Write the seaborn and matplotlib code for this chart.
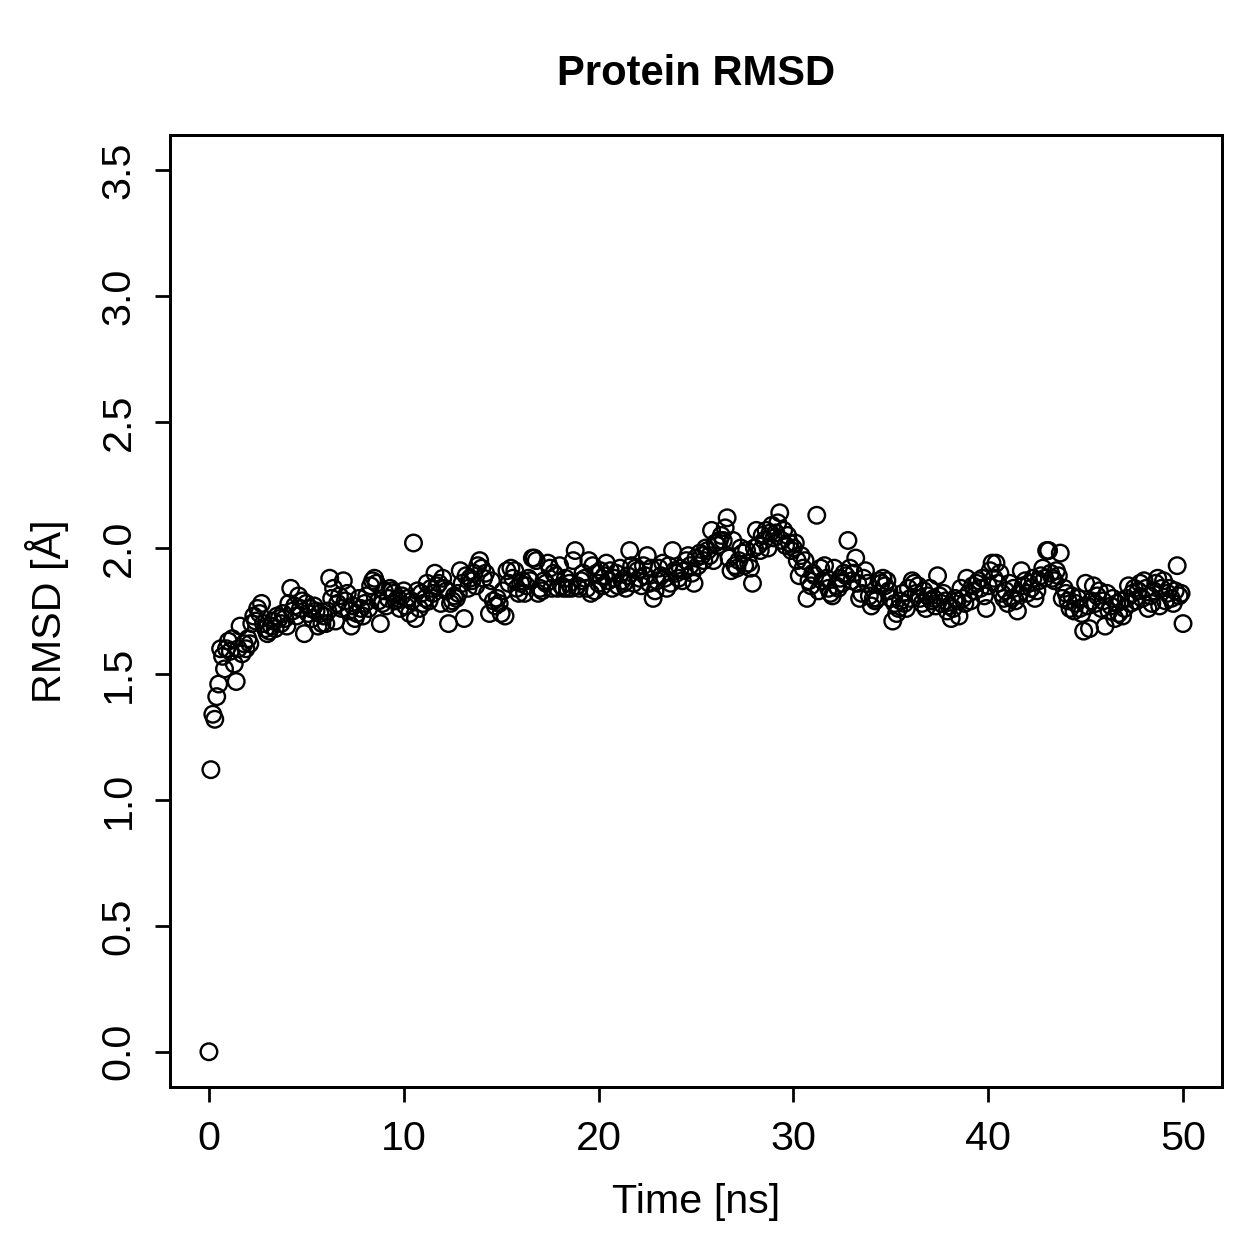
import numpy as np
import pandas as pd
import matplotlib
matplotlib.use('Agg')
import matplotlib.pyplot as plt
import seaborn as sns

# RMSD values, one row per ns (0.1 ns step)
rmsd_rows = [
    [0.00, 1.12, 1.34, 1.32, 1.41, 1.46, 1.60, 1.57, 1.52, 1.60],
    [1.63, 1.59, 1.64, 1.54, 1.47, 1.60, 1.69, 1.58, 1.62, 1.60],
    [1.64, 1.62, 1.70, 1.73, 1.71, 1.76, 1.74, 1.78, 1.70, 1.68],
    [1.66, 1.67, 1.69, 1.71, 1.68, 1.73, 1.72, 1.70, 1.74, 1.72],
    [1.69, 1.78, 1.84, 1.75, 1.77, 1.73, 1.81, 1.76, 1.79, 1.66],
    [1.78, 1.74, 1.76, 1.72, 1.77, 1.75, 1.69, 1.74, 1.70, 1.73],
    [1.70, 1.75, 1.88, 1.80, 1.84, 1.71, 1.78, 1.81, 1.76, 1.87],
    [1.79, 1.82, 1.75, 1.69, 1.77, 1.72, 1.74, 1.80, 1.76, 1.73],
    [1.78, 1.81, 1.76, 1.85, 1.87, 1.88, 1.86, 1.79, 1.70, 1.78],
    [1.83, 1.77, 1.80, 1.84, 1.83, 1.82, 1.79, 1.80, 1.76, 1.81],
    [1.83, 1.77, 1.80, 1.74, 1.79, 2.02, 1.72, 1.83, 1.76, 1.82],
    [1.78, 1.80, 1.86, 1.79, 1.84, 1.82, 1.90, 1.85, 1.86, 1.78],
    [1.88, 1.84, 1.83, 1.70, 1.78, 1.79, 1.81, 1.80, 1.82, 1.91],
    [1.86, 1.72, 1.89, 1.84, 1.88, 1.87, 1.90, 1.85, 1.93, 1.95],
    [1.92, 1.88, 1.90, 1.82, 1.74, 1.87, 1.79, 1.77, 1.80, 1.78],
    [1.74, 1.83, 1.73, 1.91, 1.86, 1.92, 1.88, 1.91, 1.84, 1.82],
    [1.86, 1.87, 1.82, 1.85, 1.88, 1.87, 1.96, 1.96, 1.95, 1.82],
    [1.84, 1.83, 1.87, 1.86, 1.94, 1.92, 1.84, 1.90, 1.89, 1.84],
    [1.93, 1.85, 1.84, 1.88, 1.84, 1.86, 1.84, 1.95, 1.99, 1.85],
    [1.84, 1.87, 1.90, 1.88, 1.84, 1.95, 1.82, 1.93, 1.83, 1.90],
    [1.86, 1.91, 1.85, 1.89, 1.94, 1.87, 1.91, 1.84, 1.88, 1.90],
    [1.85, 1.92, 1.87, 1.86, 1.84, 1.89, 1.99, 1.93, 1.86, 1.92],
    [1.91, 1.88, 1.85, 1.93, 1.89, 1.97, 1.86, 1.92, 1.80, 1.83],
    [1.87, 1.92, 1.89, 1.94, 1.88, 1.84, 1.93, 1.86, 1.99, 1.91],
    [1.90, 1.88, 1.92, 1.87, 1.91, 1.95, 1.97, 1.93, 1.90, 1.86],
    [1.96, 1.93, 1.98, 1.97, 1.95, 2.00, 1.99, 1.97, 2.07, 1.95],
    [2.02, 2.01, 2.03, 2.05, 2.03, 2.08, 2.12, 1.96, 1.91, 2.03],
    [1.93, 1.92, 1.95, 2.00, 1.98, 1.93, 1.99, 1.94, 1.92, 1.86],
    [2.00, 2.07, 2.01, 1.99, 2.05, 2.03, 2.07, 2.00, 2.06, 2.09],
    [2.04, 2.06, 2.10, 2.14, 2.03, 2.07, 2.01, 2.05, 2.02, 1.99],
    [2.00, 2.02, 1.95, 1.89, 1.97, 1.92, 1.95, 1.80, 1.87, 1.85],
    [1.90, 1.89, 2.13, 1.83, 1.92, 1.87, 1.93, 1.88, 1.84, 1.82],
    [1.81, 1.92, 1.85, 1.84, 1.88, 1.86, 1.90, 1.89, 2.03, 1.92],
    [1.87, 1.90, 1.96, 1.86, 1.80, 1.82, 1.88, 1.91, 1.86, 1.81],
    [1.77, 1.80, 1.79, 1.80, 1.87, 1.86, 1.88, 1.85, 1.87, 1.83],
    [1.80, 1.71, 1.78, 1.74, 1.76, 1.79, 1.82, 1.78, 1.76, 1.84],
    [1.80, 1.87, 1.86, 1.82, 1.85, 1.80, 1.78, 1.83, 1.76, 1.81],
    [1.84, 1.79, 1.80, 1.77, 1.89, 1.81, 1.78, 1.82, 1.79, 1.75],
    [1.77, 1.72, 1.76, 1.80, 1.79, 1.73, 1.84, 1.80, 1.78, 1.88],
    [1.82, 1.79, 1.85, 1.83, 1.86, 1.87, 1.84, 1.88, 1.81, 1.76],
    [1.85, 1.91, 1.94, 1.88, 1.94, 1.86, 1.90, 1.82, 1.80, 1.83],
    [1.78, 1.86, 1.80, 1.84, 1.79, 1.75, 1.82, 1.91, 1.85, 1.87],
    [1.82, 1.86, 1.84, 1.88, 1.80, 1.83, 1.87, 1.89, 1.92, 1.88],
    [1.99, 1.99, 1.90, 1.88, 1.87, 1.91, 1.89, 1.98, 1.80, 1.84],
    [1.82, 1.79, 1.76, 1.81, 1.75, 1.78, 1.80, 1.76, 1.74, 1.67],
    [1.86, 1.77, 1.68, 1.79, 1.85, 1.78, 1.81, 1.83, 1.76, 1.79],
    [1.69, 1.82, 1.75, 1.77, 1.80, 1.72, 1.78, 1.74, 1.79, 1.73],
    [1.76, 1.80, 1.85, 1.78, 1.82, 1.84, 1.79, 1.83, 1.86, 1.80],
    [1.87, 1.84, 1.76, 1.81, 1.78, 1.83, 1.86, 1.88, 1.77, 1.84],
    [1.87, 1.79, 1.82, 1.84, 1.80, 1.78, 1.83, 1.93, 1.81, 1.82],
]
rmsd_last = [1.70]

x_ticks = [0, 10, 20, 30, 40, 50]
y_ticks = [0.0, 0.5, 1.0, 1.5, 2.0, 2.5, 3.0, 3.5]

rmsd = [v for row in rmsd_rows for v in row] + rmsd_last
time_ns = np.arange(len(rmsd)) / 10.0
df = pd.DataFrame({'Time': time_ns, 'RMSD': rmsd})

sns.set_style('ticks')
plt.rcParams['font.family'] = ['Liberation Sans', 'DejaVu Sans']
plt.rcParams['text.color'] = 'black'
plt.rcParams['axes.labelcolor'] = 'black'

fig = plt.figure(figsize=(1259 / 180, 1259 / 180), dpi=180)
ax = fig.add_axes([0.135, 0.1366, 0.8356, 0.7562])

sns.scatterplot(data=df, x='Time', y='RMSD', ax=ax, s=44,
                facecolor='none', edgecolor='black', linewidth=0.95)
ax.collections[0].set_facecolor('none')
ax.collections[0].set_edgecolor('black')

ax.set_xlim(-2, 52)
ax.set_ylim(-0.14, 3.64)
ax.set_xticks(x_ticks)
ax.set_yticks(y_ticks)
ax.set_xticklabels([str(t) for t in x_ticks])
ax.set_yticklabels(['%.1f' % t for t in y_ticks], rotation=90, va='center')
ax.tick_params(axis='both', direction='out', length=6, width=1.1,
               labelsize=16.5, pad=7, color='black', labelcolor='black')
for sp in ax.spines.values():
    sp.set_visible(True)
    sp.set_linewidth(1.2)
    sp.set_color('black')

ax.set_xlabel('Time [ns]', fontsize=16.5, labelpad=10)
ax.set_ylabel('RMSD [Å]', fontsize=16.5, labelpad=12)
ax.set_title('Protein RMSD', fontsize=16.7, fontweight='bold', pad=20,
             color='black')

fig.savefig('out.png', dpi=180)
